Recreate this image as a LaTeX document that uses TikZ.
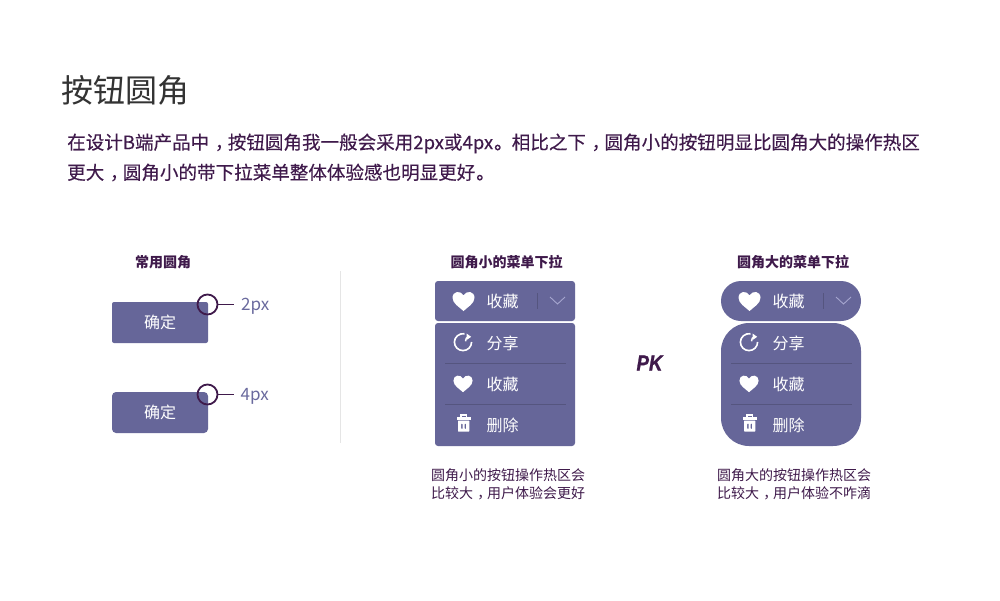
\documentclass[tikz,border=0pt]{standalone}
\usepackage{fontspec}
\setmainfont{Noto Sans CJK SC}
\newfontfamily\bodyfont[FakeBold=0.25]{Noto Sans CJK SC}
\newfontfamily\pkfont[FakeBold=1.2]{Liberation Sans}
\newcommand{\cpu}[1]{\kern.3em#1\kern-.3em}
\newcommand{\cpp}[1]{\kern.05em#1\kern-.05em}
\definecolor{btn}{HTML}{666699}
\definecolor{ink}{HTML}{3F1A4B}
\definecolor{title}{HTML}{333333}
\definecolor{sep}{HTML}{55557F}
\definecolor{chev}{HTML}{A6A6CF}
\definecolor{note}{HTML}{6A6A9E}
\tikzset{
  txt/.style={inner sep=0pt,font=\fontsize{#1}{#1}\selectfont},
  headtxt/.style={txt=14,text=ink,font=\fontsize{14}{14}\selectfont\bfseries},
  bodytxt/.style={inner sep=0pt,font=\bodyfont\fontsize{18.55}{18.55}\selectfont,text=ink,anchor=west},
  captxt/.style={txt=14,text=ink,anchor=west},
  wtxt/.style={txt=16,text=white,anchor=west},
  panel/.style={fill=btn,inner sep=0pt,minimum width=#1},
  okbtn/.style={panel=96pt,minimum height=41pt,rounded corners=2pt,text=white,font=\fontsize{16}{16}\selectfont},
  ring/.style={circle,draw=ink,line width=1.8pt,minimum size=20pt,inner sep=0pt},
  lead/.style={draw=ink,line width=1.2pt},
  pxtxt/.style={txt=17,text=note,anchor=west},
  rule/.style={draw=sep,line width=.8pt},
  pics/heart/.style={code={
    \fill[white,scale=#1] (0,10) .. controls (-4,6.2) and (-11,2.5) .. (-11,-3.2)
      .. controls (-11,-10) and (-3,-11) .. (0,-5.6)
      .. controls (3,-11) and (11,-10) .. (11,-3.2)
      .. controls (11,2.5) and (4,6.2) .. (0,10) -- cycle;
  }},
  pics/share/.style={code={
    \draw[white,line width=1.6pt] (1.5,-8.3) .. controls (-4,-9) and (-8.6,-4.8) .. (-8.6,0)
      .. controls (-8.6,4.8) and (-4.8,8.6) .. (0,8.6)
      .. controls (4.8,8.6) and (8.6,4.8) .. (8.6,0);
    \draw[white,line width=1.5pt] (2.5,-.7) .. controls (2.7,-3) and (3.5,-5) .. (5,-5.2);
    \fill[white] (8.2,-5.2) -- (3.6,-8.4) -- (3.9,-2.2) -- cycle;
  }},
  pics/trash/.style={code={
    \fill[white] (-7,-5.6) rectangle (7,-3.4);
    \draw[white,line width=1.4pt] (-2.6,-5) -- (-2.6,-8.2) -- (2.6,-8.2) -- (2.6,-5);
    \fill[white,rounded corners=.6pt,even odd rule] (-5.7,-2.4) -- (5.7,-2.4) -- (5.7,8.6) -- (-5.7,8.6) -- cycle
      (-2.5,.6) rectangle (-1,6) (1,.6) rectangle (2.5,6);
  }},
}
\begin{document}
\begin{tikzpicture}[x=1pt,y=-1pt]
\useasboundingbox (0,0) rectangle (1000,600);
\fill[white] (0,0) rectangle (1000,600);

\node[txt=32,text=title,anchor=west] (ttl) at (61.5,90) {按钮圆角};
\node[bodytxt] (b1) at (67,143.5) {在设计B端产品中\cpu{，}按钮圆角我一般会采用2px或4px\cpp{。}相比之下\cpu{，}圆角小的按钮明显比圆角大的操作热区};
\node[bodytxt] (b2) at (67,172.5) {更大\cpu{，}圆角小的带下拉菜单整体体验感也明显更好\cpp{。}};

\node[headtxt] (h1) at (163,262) {常用圆角};
\node[headtxt] (h2) at (506.5,262) {圆角小的菜单下拉};
\node[headtxt] (h3) at (793,262) {圆角大的菜单下拉};

% left column
\node[okbtn] (ok1) at (160,322.5) {确定};
\node[okbtn,rounded corners=4pt] (ok2) at (160,412.5) {确定};
\node[ring] (r1) at (207.5,304.5) {};
\node[ring] (r2) at (207.5,394.5) {};
\coordinate (e1) at (234,304.5);
\coordinate (e2) at (234,394.5);
\draw[lead] (r1) -- (e1);
\draw[lead] (r2) -- (e2);
\node[pxtxt] (p1) at (241,306.5) {2px};
\node[pxtxt] (p2) at (240.5,396.5) {4px};

\coordinate (d1) at (340.5,271);
\coordinate (d2) at (340.5,443);
\draw[draw=black!10,line width=.8pt] (d1) -- (d2);

% small radius menu
\node[panel=140pt,minimum height=40pt,rounded corners=3pt] (m1) at (505,301) {};
\node[panel=140pt,minimum height=123pt,rounded corners=3pt] (l1) at (505,384.5) {};
% large radius menu
\node[panel=140pt,minimum height=40pt,rounded corners=20pt] (m2) at (791,301) {};
\node[panel=140pt,minimum height=123pt,rounded corners=28pt] (l2) at (791,384.5) {};

\foreach \cx/\t in {463/a,749/b}{
  \pic at (\cx+.5,301) {heart=1};
  \pic at (\cx,342) {share};
  \pic at (\cx,383.5) {heart=.87};
  \pic at (\cx+.7,423) {trash};
  \node[wtxt] (s\t1) at (\cx+23.5,301) {收藏};
  \node[wtxt] (s\t2) at (\cx+23.5,343) {分享};
  \node[wtxt] (s\t3) at (\cx+23.5,384) {收藏};
  \node[wtxt] (s\t4) at (\cx+23.5,425) {删除};
  \draw[rule] (\cx+74.5,293) -- (\cx+74.5,309);
  \draw[chev,line width=.9pt] (\cx+87,297) -- (\cx+94.5,304) -- (\cx+102,297);
  \draw[rule] (\cx-18,363.5) -- (\cx+103,363.5);
  \draw[rule] (\cx-18,404.5) -- (\cx+103,404.5);
}

\node[inner sep=0pt,text=ink,xscale=.85,transform shape,font=\pkfont\fontsize{22}{22}\selectfont\bfseries\itshape] (pk) at (649.5,363) {PK};

\node[captxt] (c1) at (431,475.5) {圆角小的按钮操作热区会};
\node[captxt] (c2) at (431,493.5) {比较大\cpu{，}用户体验会更好};
\node[captxt] (c3) at (717,475.5) {圆角大的按钮操作热区会};
\node[captxt] (c4) at (717,493.5) {比较大\cpu{，}用户体验不咋滴};
\end{tikzpicture}
\end{document}
